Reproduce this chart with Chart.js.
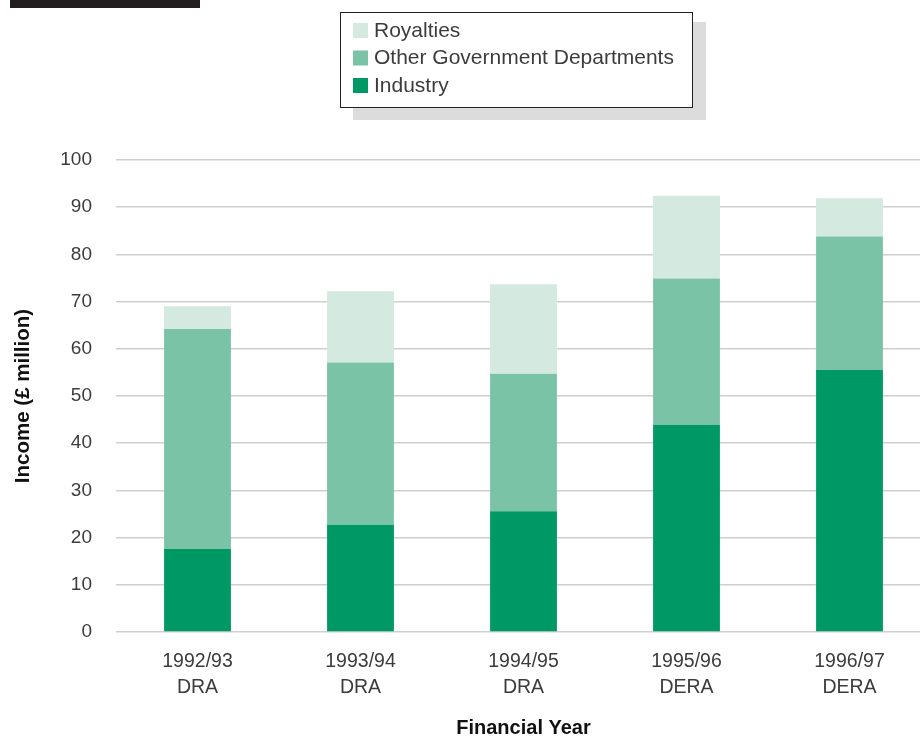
<!DOCTYPE html>
<html>
<head>
<meta charset="utf-8">
<script src="https://cdn.jsdelivr.net/npm/chart.js@4"></script>
<style>
  html, body { margin: 0; padding: 0; background: #fff; overflow: hidden; }
  #wrap { width: 920px; height: 737px; overflow: hidden; }
  canvas { display: block; }
</style>
</head>
<body>
<div id="wrap"><canvas id="income" width="935" height="737"></canvas></div>
<script>
// Income by source, £ million, per financial year
const years = [['1992/93', 'DRA'], ['1993/94', 'DRA'], ['1994/95', 'DRA'], ['1995/96', 'DERA'], ['1996/97', 'DERA']];
const industry = [17.6, 22.7, 25.6, 43.9, 55.5];
const otherDepts = [46.6, 34.4, 29.1, 31.0, 28.3];
const royalties = [4.8, 15.1, 19.0, 17.5, 8.1];

const FONT = '"Liberation Sans", Arial, sans-serif';
const TEXT = '#3c3c3c';

// boxed key with drop shadow, plus the black tab in the corner
const keyBox = {
    id: 'keyBox',
    afterDraw(chart) {
        const ctx = chart.ctx;
        ctx.save();
        ctx.fillStyle = '#231f20';
        ctx.fillRect(10, 0, 190, 8);

        ctx.fillStyle = '#dcdcdc';
        ctx.fillRect(353, 22, 353, 98);
        ctx.fillStyle = '#fff';
        ctx.fillRect(340, 12, 352, 95);
        ctx.strokeStyle = '#222';
        ctx.lineWidth = 1;
        ctx.strokeRect(340.5, 12.5, 352, 95);

        const sets = chart.data.datasets.slice().reverse();
        ctx.font = '21px ' + FONT;
        ctx.textBaseline = 'middle';
        sets.forEach((ds, i) => {
            const cy = 30 + i * 27.5;
            ctx.fillStyle = ds.backgroundColor;
            ctx.fillRect(353, cy - 7, 15, 15);
            ctx.fillStyle = TEXT;
            ctx.fillText(ds.label, 374, cy + 1);
        });
        ctx.restore();
    }
};

const ctx = document.getElementById('income').getContext('2d');
new Chart(ctx, {
    type: 'bar',
    data: {
        labels: years,
        datasets: [
            { label: 'Industry', data: industry, backgroundColor: '#009966' },
            { label: 'Other Government Departments', data: otherDepts, backgroundColor: '#7bc3a7' },
            { label: 'Royalties', data: royalties, backgroundColor: '#d4e9e0' }
        ]
    },
    options: {
        responsive: false,
        animation: false,
        devicePixelRatio: 1,
        layout: { padding: { top: 160, right: 4, left: 0, bottom: 0 } },
        datasets: {
            bar: {
                barPercentage: 0.41,
                categoryPercentage: 1,
                borderWidth: 0
            }
        },
        plugins: {
            legend: { display: false },
            tooltip: { enabled: false }
        },
        scales: {
            x: {
                stacked: true,
                grid: { display: false, drawTicks: false },
                border: { display: false },
                ticks: {
                    color: TEXT,
                    font: { family: FONT, size: 19.5, lineHeight: 1.33 },
                    padding: 17,
                    maxRotation: 0
                },
                title: {
                    display: true,
                    text: 'Financial Year',
                    color: '#111',
                    font: { family: FONT, size: 20, weight: 'bold' },
                    padding: { top: 0, bottom: -3 }
                },
                afterFit(scale) { scale.height = 105; }
            },
            y: {
                stacked: true,
                min: 0,
                max: 100,
                ticks: {
                    stepSize: 10,
                    color: TEXT,
                    font: { family: FONT, size: 19 },
                    padding: 24
                },
                grid: { color: '#cfcfcf', lineWidth: 1.5, drawTicks: false },
                border: { display: false },
                title: {
                    display: true,
                    text: 'Income (£ million)',
                    color: '#111',
                    font: { family: FONT, size: 20.5, weight: 'bold' },
                    padding: { top: 11, bottom: 0 }
                },
                afterFit(scale) { scale.width = 116; }
            }
        }
    },
    plugins: [keyBox]
});
</script>
</body>
</html>
